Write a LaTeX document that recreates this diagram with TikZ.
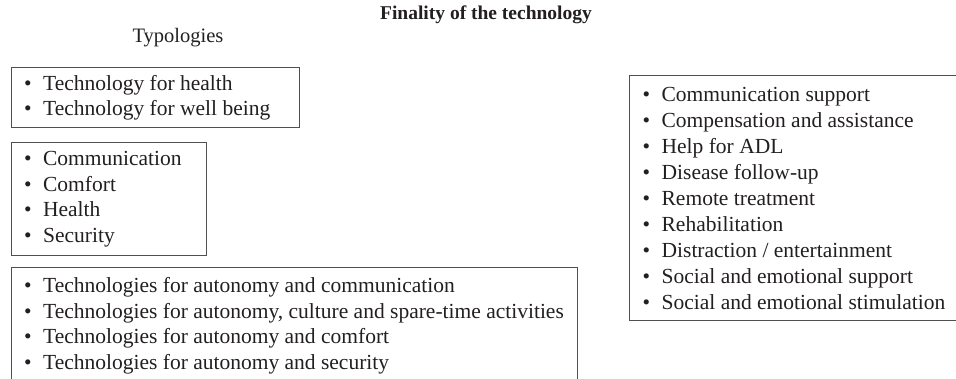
\documentclass[tikz,border=0pt]{standalone}
\usepackage{fontspec}
\setmainfont{Liberation Serif}
\usetikzlibrary{positioning}
\definecolor{ink}{RGB}{35,31,32}
\definecolor{frame}{RGB}{80,80,80}
\newcommand{\itm}[1]{\makebox[19pt][l]{\textbullet}#1}
\tikzset{listbox/.style={draw=frame,line width=1.3pt,anchor=north west,align=flush left,
    inner xsep=13pt,inner ysep=7pt,text=ink,font=\fontsize{21.5}{25.5}\selectfont}}

\begin{document}
\begin{tikzpicture}[x=1pt,y=-1pt]
\tikzset{heading/.style={anchor=base,text=ink,inner sep=0pt}}
\clip (0,0) rectangle (956,379);
\node[heading,font=\fontsize{19.5}{22}\selectfont\bfseries] (finality) at (486,20) {Finality of the technology};
\node[heading,font=\fontsize{20.5}{24}\selectfont] (typologies) at (178,43) {Typologies};
% typologies, left column
\node[listbox,text width=262pt,minimum height=60pt] (kind) at (10.5,67)
  {\itm{Technology for health}\\ \itm{Technology for well being}};
\node[listbox,text width=169pt,minimum height=113pt] (field) at (10.5,142)
  {\itm{Communication}\\ \itm{Comfort}\\ \itm{Health}\\ \itm{Security}};
\node[listbox,text width=540pt,inner ysep=10pt] (autonomy) at (10.5,267)
  {\itm{Technologies for autonomy and communication}\\
   \itm{Technologies for autonomy, culture and spare-time activities}\\
   \itm{Technologies for autonomy and comfort}\\
   \itm{Technologies for autonomy and security}\rule[-30pt]{0pt}{0pt}};
% finality, right column
\node[listbox,text width=310pt,minimum height=245pt,font=\fontsize{21.5}{26}\selectfont] (purpose) at (629,75)
  {\itm{Communication support}\\ \itm{Compensation and assistance}\\ \itm{Help for ADL}\\
   \itm{Disease follow-up}\\ \itm{Remote treatment}\\ \itm{Rehabilitation}\\
   \itm{Distraction / entertainment}\\ \itm{Social and emotional support}\\
   \itm{Social and emotional stimulation}};
\end{tikzpicture}
\end{document}
